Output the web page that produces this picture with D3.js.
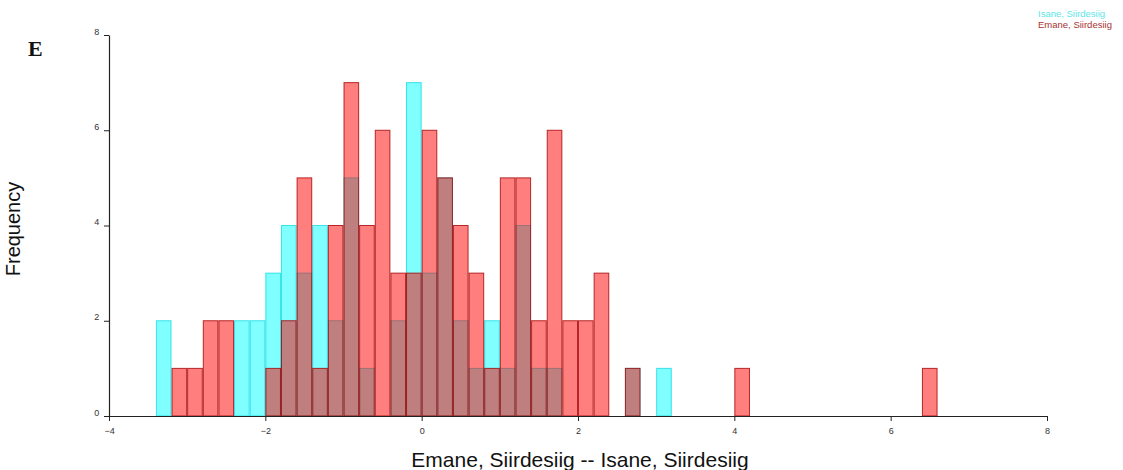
<!DOCTYPE html>
<html><head><meta charset="utf-8">
<script src="https://cdn.jsdelivr.net/npm/d3@7"></script>
<style>
html,body{margin:0;padding:0;background:#fff;}
svg{display:block;}
</style></head>
<body>
<svg id="chart" width="1123" height="470"></svg>
<script>
// Bin start values (bin width 0.2)
const binStarts = [-3.4,-3.2,-3.0,-2.8,-2.6,-2.4,-2.2,-2.0,-1.8,-1.6,-1.4,-1.2,-1.0,-0.8,-0.6,-0.4,-0.2,0.0,0.2,0.4,0.6,0.8,1.0,1.2,1.4,1.6,1.8,2.0,2.2,2.4,2.6,2.8,3.0,4.0,6.4];
const isaneCounts = [2,0,0,0,0,2,2,3,4,3,4,2,5,1,0,2,7,3,5,2,1,2,1,4,1,1,0,0,0,0,1,0,1,0,0];
const emaneCounts = [0,1,1,2,2,0,0,1,2,5,1,4,7,4,6,3,3,6,5,4,3,1,5,5,2,6,2,2,3,0,1,0,0,1,1];
const binWidth = 0.2;
const seriesNames = ["Isane, Siirdesiig","Emane, Siirdesiig"];
const xTicks = [-4,-2,0,2,4,6,8];
const yTicks = [0,2,4,6,8];
const xTitle = "Emane, Siirdesiig -- Isane, Siirdesiig";
const yTitle = "Frequency";
const panelLabel = "E";

const svg = d3.select("#chart");
const x = d3.scaleLinear().domain([-4,8]).range([109,1047]);
const y = d3.scaleLinear().domain([0,8]).range([416,35]);

const series = [
  {name: seriesNames[0], counts: isaneCounts, fill:"rgba(0,255,255,0.5)", stroke:"rgba(0,215,225,0.7)", text:"#5ce6ea"},
  {name: seriesNames[1], counts: emaneCounts, fill:"rgba(255,0,0,0.5)", stroke:"rgba(165,0,0,0.8)", text:"#a83232"}
];

series.forEach(s => {
  const data = binStarts.map((b,i)=>({x0:b, x1:b+binWidth, c:s.counts[i]})).filter(d=>d.c>0);
  svg.append("g").selectAll("rect").data(data).join("rect")
    .attr("x", d=>x(d.x0)+0.5)
    .attr("y", d=>y(d.c))
    .attr("width", d=>x(d.x1)-x(d.x0)-1)
    .attr("height", d=>y(0)-y(d.c))
    .attr("fill", s.fill)
    .attr("stroke", s.stroke)
    .attr("stroke-width", 1);
});

const xAxis = svg.append("g").attr("transform","translate(0,416)")
  .call(d3.axisBottom(x).tickValues(xTicks).tickSize(5).tickSizeOuter(0).tickFormat(d3.format("d")));
const yAxis = svg.append("g").attr("transform","translate(109,0)")
  .call(d3.axisLeft(y).tickValues(yTicks).tickSize(5).tickSizeOuter(0).tickFormat(d3.format("d")));
[xAxis,yAxis].forEach(a=>{
  a.select(".domain").attr("stroke","#222").attr("stroke-width",1.2);
  a.selectAll(".tick line").attr("stroke","#222");
  a.selectAll(".tick text").attr("fill","#333").style("font-family","'Liberation Sans', Arial, sans-serif").style("font-size","9px");
});
xAxis.selectAll(".tick text").attr("dy","1.1em");
yAxis.selectAll(".tick text").attr("dx","-0.2em").attr("dy","-0.1em");

svg.append("text").attr("x",580).attr("y",467).attr("text-anchor","middle")
  .style("font-family","'Liberation Sans', Arial, sans-serif").style("font-size","21px").attr("fill","#111")
  .text(xTitle);
svg.append("text").attr("transform","translate(20,229) rotate(-90)").attr("text-anchor","middle")
  .style("font-family","'Liberation Sans', Arial, sans-serif").style("font-size","20px").attr("fill","#111")
  .text(yTitle);
svg.append("text").attr("x",28).attr("y",56)
  .style("font-family","'Liberation Serif', 'Times New Roman', serif").style("font-size","22px").style("font-weight","bold").attr("fill","#111")
  .text(panelLabel);

series.forEach((s,i)=>{
  svg.append("text").attr("x",1038).attr("y",17+i*11).attr("text-anchor","start")
    .style("font-family","'Liberation Sans', Arial, sans-serif").style("font-size","9.5px").attr("fill",s.text)
    .text(s.name);
});
</script>
</body></html>
